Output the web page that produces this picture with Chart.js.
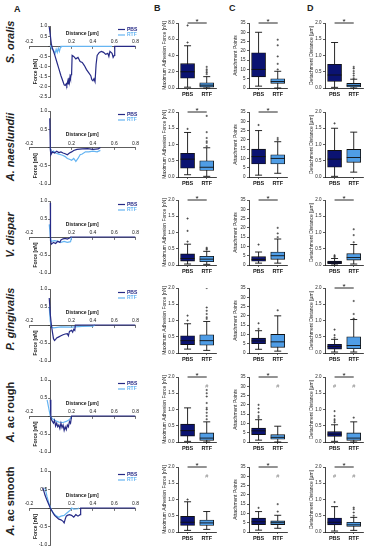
<!DOCTYPE html>
<html>
<head>
<meta charset="utf-8">
<script src="https://cdn.jsdelivr.net/npm/chart.js@4.4.1/dist/chart.umd.min.js"></script>
<style>
  body { margin: 0; background: #fff; }
  #page { position: relative; width: 374px; height: 550px; overflow: hidden; font-family: "Liberation Sans", Arial, sans-serif; color: #222; }
  #page canvas { position: absolute; }
  .letter { position: absolute; font-weight: bold; font-size: 9px; }
  .species { position: absolute; left: 10px; font-weight: bold; font-size: 11px; white-space: nowrap; transform: translate(-50%, -50%) rotate(-90deg); }
</style>
</head>
<body>
<div id="page">
  <div class="letter" style="left:14px;top:4px">A</div>
  <div class="letter" style="left:154px;top:3px">B</div>
  <div class="letter" style="left:229px;top:3px">C</div>
  <div class="letter" style="left:307px;top:3px">D</div>
  <div class="species" style="top:42px"><i>S. oralis</i></div>
  <div class="species" style="top:147px"><i>A. naeslundii</i></div>
  <div class="species" style="top:235px"><i>V. dispar</i></div>
  <div class="species" style="top:319px"><i>P. gingivalis</i></div>
  <div class="species" style="top:412px"><i>A.</i> ac rough</div>
  <div class="species" style="top:501px"><i>A.</i> ac smooth</div>
</div>
<script>
const groups = ['PBS', 'RTF'];

// column A: force-distance curves, [distance µm, force nN]
const oralisPBS = [[-0.01,0.95],[0,0.55],[0.01,0.1],[0.02,-0.1],[0.04,-0.4],[0.06,-0.75],[0.08,-1.1],[0.1,-1.45],[0.12,-1.75],[0.13,-1.9],[0.14,-1.93],[0.15,-1.85],[0.155,-1.92],[0.165,-1.7],[0.17,-1.85],[0.175,-1.55],[0.18,-1.75],[0.185,-1.5],[0.19,-1.6],[0.195,-1.4],[0.2,-1.35],[0.205,-0.45],[0.22,-0.5],[0.24,-0.62],[0.26,-0.55],[0.28,-0.75],[0.3,-0.8],[0.32,-0.95],[0.34,-1.15],[0.36,-1.3],[0.38,-1.45],[0.39,-1.65],[0.4,-1.7],[0.41,-1.6],[0.42,-1.75],[0.43,-0.9],[0.44,-0.45],[0.46,-0.3],[0.48,-0.25],[0.5,-0.3],[0.52,-0.4],[0.54,-0.35],[0.55,-0.5],[0.56,-0.25],[0.58,-0.35],[0.59,-0.55],[0.6,-0.45],[0.605,0],[0.8,0]];
const oralisRTF = [[0,0.05],[0.01,-0.1],[0.03,-0.2],[0.045,-0.35],[0.055,-0.15],[0.065,-0.3],[0.075,-0.1],[0.085,-0.25],[0.095,-0.05],[0.1,0],[0.58,0]];
const naeslundiiPBS = [[-0.005,0.8],[0,-0.05],[0.005,-0.2],[0.02,-0.12],[0.04,-0.15],[0.06,-0.1],[0.08,-0.14],[0.1,-0.12],[0.12,-0.15],[0.14,-0.17],[0.16,-0.2],[0.18,-0.15],[0.2,-0.12],[0.22,-0.08],[0.25,-0.05],[0.3,-0.04],[0.35,-0.03],[0.4,-0.05],[0.45,-0.04],[0.47,0]];
const naeslundiiRTF = [[0,0],[0.01,-0.15],[0.03,-0.1],[0.05,-0.15],[0.08,-0.18],[0.1,-0.2],[0.12,-0.22],[0.14,-0.25],[0.16,-0.3],[0.18,-0.32],[0.2,-0.35],[0.22,-0.3],[0.24,-0.38],[0.26,-0.3],[0.28,-0.2],[0.3,-0.18],[0.33,-0.12],[0.36,-0.12],[0.4,-0.1],[0.44,-0.12],[0.47,-0.08]];
const disparPBS = [[0,0.95],[0.002,-0.1],[0.01,-0.2],[0.03,-0.15],[0.05,-0.18],[0.07,-0.12],[0.09,-0.15],[0.1,-0.08],[0.12,-0.05],[0.14,-0.04],[0.16,-0.06],[0.18,-0.03],[0.19,0],[0.8,0]];
const disparRTF = [[-0.01,0.35],[-0.005,0.2],[0,0],[0.01,-0.12],[0.04,-0.1],[0.07,-0.12],[0.1,-0.15],[0.13,-0.12],[0.16,-0.15],[0.19,-0.13],[0.2,0]];
const gingivalisPBS = [[-0.01,0.75],[0,0.3],[0.01,0],[0.02,-0.2],[0.03,-0.38],[0.04,-0.43],[0.05,-0.4],[0.06,-0.36],[0.08,-0.33],[0.1,-0.3],[0.12,-0.27],[0.14,-0.25],[0.16,-0.24],[0.17,-0.3],[0.18,-0.18],[0.2,-0.15],[0.21,-0.2],[0.22,-0.12],[0.23,-0.15],[0.235,0],[0.8,0]];
const gingivalisRTF = [[-0.01,0.5],[0,0.1],[0.01,-0.05],[0.03,-0.08],[0.1,-0.05],[0.2,-0.06],[0.3,-0.04],[0.4,-0.03],[0.42,0]];
const roughPBS = [[0,0.45],[0.005,0],[0.01,-0.1],[0.02,-0.15],[0.03,-0.2],[0.04,-0.12],[0.05,-0.28],[0.06,-0.2],[0.07,-0.3],[0.08,-0.25],[0.09,-0.35],[0.1,-0.2],[0.11,-0.32],[0.12,-0.25],[0.13,-0.4],[0.14,-0.3],[0.15,-0.38],[0.16,-0.25],[0.17,-0.3],[0.18,-0.15],[0.19,-0.2],[0.2,0],[0.8,0]];
const roughRTF = [[-0.03,0.45],[-0.01,0.15],[0,0],[0.02,-0.08],[0.05,-0.13],[0.08,-0.17],[0.12,-0.18],[0.15,-0.15],[0.18,-0.1],[0.2,-0.02]];
const smoothPBS = [[-0.07,0.55],[-0.05,0.35],[-0.03,0.2],[0,0],[0.02,-0.1],[0.04,-0.2],[0.06,-0.25],[0.08,-0.3],[0.1,-0.32],[0.12,-0.36],[0.13,-0.4],[0.14,-0.3],[0.15,-0.22],[0.16,-0.2],[0.18,-0.18],[0.2,-0.2],[0.22,-0.25],[0.24,-0.18],[0.26,-0.22],[0.28,-0.18],[0.285,0],[0.8,0]];
const smoothRTF = [[-0.05,0.55],[-0.03,0.3],[-0.01,0.1],[0.01,-0.05],[0.03,-0.15],[0.06,-0.22],[0.08,-0.25],[0.1,-0.22],[0.13,-0.2],[0.15,-0.15],[0.17,-0.1],[0.19,-0.05],[0.2,0],[0.22,-0.03],[0.26,-0.02],[0.27,0]];

// columns B-D: box stats [min, Q1, median, Q3, max] for PBS, RTF; outliers; "#" marks
const oralisForce = [[0.1,1.2,2.0,3.0,5.2],[0,0.1,0.35,0.65,1.4]];
const oralisForceOut = [[5.6,7.7],[1.7,1.9,2.1,2.3,2.6]];
const oralisPoints = [[1,6,10,19,30],[0,2.5,3.5,5,9]];
const oralisPointsOut = [[],[10,13,17,23,26]];
const oralisDist = [[0.02,0.2,0.4,0.73,1.4],[0,0.03,0.08,0.14,0.27]];
const oralisDistOut = [[],[0.3,0.38,0.45,0.52,0.6,0.65]];

const naeslundiiForce = [[0.07,0.27,0.55,0.73,1.37],[0.02,0.2,0.3,0.5,0.9]];
const naeslundiiForceOut = [[1.48],[0.95,1.05,1.1,1.2,1.38,1.88]];
const naeslundiiPoints = [[1,7,11,15,25],[2,7,10,12,19]];
const naeslundiiPointsOut = [[28],[20,21]];
const naeslundiiDist = [[0.02,0.3,0.55,0.82,1.5],[0.15,0.45,0.6,0.85,1.38]];
const naeslundiiDistOut = [[1.65],[]];

const disparForce = [[0.03,0.12,0.2,0.34,0.64],[0.02,0.1,0.18,0.27,0.42]];
const disparForceOut = [[0.72,1.05,1.43],[0.47,0.5,0.53]];
const disparPoints = [[1,2,3,4.5,7],[1,3,5,7,14]];
const disparPointsOut = [[11],[15,17,20]];
const disparDist = [[0,0.04,0.08,0.12,0.2],[0.03,0.15,0.23,0.35,0.63]];
const disparDistOut = [[0.24,0.27,0.3],[0.7,0.92,1.1]];

const gingivalisForce = [[0.12,0.26,0.38,0.53,0.9],[0.08,0.24,0.38,0.56,0.97]];
const gingivalisForceOut = [[1.0,1.15],[1.05,1.1,1.2,1.3,1.4,2.0]];
const gingivalisPoints = [[2,5,6.5,8,12],[1,3,6,10,20]];
const gingivalisPointsOut = [[13,16],[23]];
const gingivalisDist = [[0.03,0.12,0.2,0.27,0.42],[0.03,0.13,0.23,0.5,1.03]];
const gingivalisDistOut = [[0.47,0.55,0.72],[1.06,1.2,1.6]];

const roughForce = [[0.02,0.18,0.35,0.55,1.05],[0,0.05,0.12,0.28,0.62]];
const roughForceOut = [[],[0.7,0.8,0.9,1.0,1.05,1.2,1.4,1.5,1.6]];
const roughPoints = [[1,4,6,7.5,12],[0,1.5,2.5,4,8.5]];
const roughPointsOut = [[13,14,16,18,20],[]];
const roughDist = [[0.02,0.17,0.24,0.32,0.53],[0,0.05,0.12,0.28,0.62]];
const roughDistOut = [[0.6,0.65,0.7,0.8,0.95],[0.75]];

const smoothForce = [[0.05,0.2,0.3,0.48,0.93],[0.08,0.2,0.28,0.37,0.63]];
const smoothForceOut = [[1.0],[]];
const smoothPoints = [[1,4,5.5,7.5,11],[2,4,5,6,9]];
const smoothPointsOut = [[13],[11,15]];
const smoothDist = [[0.03,0.22,0.3,0.43,0.78],[0.05,0.17,0.22,0.3,0.45]];
const smoothDistOut = [[0.92],[0.5,0.6,0.7,0.75]];

const hashForce = [null, 1.72];
const hashPoints = [null, 30];
const hashDist = [1.72, 1.72];

const navy = '#0b1372';
const sky = '#4f9de6';
const linePBS = '#262a86';
const lineRTF = '#66b5f2';

Chart.defaults.font.family = '"Liberation Sans", Arial, sans-serif';
Chart.defaults.color = '#222';

function addCanvas(left, top, w, h) {
  const c = document.createElement('canvas');
  c.width = w; c.height = h;
  c.style.left = left + 'px'; c.style.top = top + 'px';
  c.style.width = w + 'px'; c.style.height = h + 'px';
  document.getElementById('page').appendChild(c);
  return c;
}

// tick labels, titles and legend for the crossing axes of column A
const crossLabels = {
  id: 'crossLabels',
  afterDraw(chart) {
    const { ctx, chartArea, scales: { x, y } } = chart;
    const x0 = x.getPixelForValue(0), y0 = y.getPixelForValue(0);
    ctx.save();
    ctx.fillStyle = '#222';
    ctx.font = '5px "Liberation Sans"';
    ctx.textAlign = 'center';
    ctx.textBaseline = 'alphabetic';
    x.ticks.forEach(t => { if (t.value) ctx.fillText(t.value.toFixed(1), x.getPixelForValue(t.value), y0 - 3); });
    ctx.textAlign = 'right';
    ctx.textBaseline = 'middle';
    y.ticks.forEach(t => { if (t.value) ctx.fillText(t.value.toFixed(1), x0 - 3, y.getPixelForValue(t.value)); });
    ctx.font = 'bold 5px "Liberation Sans"';
    ctx.textAlign = 'center';
    ctx.fillText('Distance [µm]', x.getPixelForValue(0.3), y0 - 12.5);
    ctx.save();
    ctx.translate(x0 - 15, (y0 + chartArea.bottom) / 2);
    ctx.rotate(-Math.PI / 2);
    ctx.fillText('Force [nN]', 0, 0);
    ctx.restore();
    ctx.textAlign = 'left';
    chart.data.datasets.forEach((ds, i) => {
      const ly = chartArea.top + 3.5 + i * 5.5;
      ctx.strokeStyle = ds.borderColor;
      ctx.lineWidth = 1.2;
      ctx.beginPath();
      ctx.moveTo(chartArea.right - 17.5, ly);
      ctx.lineTo(chartArea.right - 10.5, ly);
      ctx.stroke();
      ctx.fillStyle = ds.borderColor;
      ctx.fillText(ds.label, chartArea.right - 8.5, ly);
    });
    ctx.restore();
  }
};

function forceCurve(top, bottom, yMin, pbs, rtf) {
  const canvas = addCanvas(18, top - 8, 124, bottom - top + 12);
  const axisStyle = {
    grid: { drawOnChartArea: false, tickLength: 2, color: '#333', lineWidth: 0.7 },
    border: { color: '#333', width: 0.8 }
  };
  return new Chart(canvas, {
    type: 'line',
    data: {
      datasets: [
        { label: 'PBS', data: pbs.map(p => ({ x: p[0], y: p[1] })), borderColor: linePBS, borderWidth: 1.2, pointRadius: 0 },
        { label: 'RTF', data: rtf.map(p => ({ x: p[0], y: p[1] })), borderColor: lineRTF, borderWidth: 1.2, pointRadius: 0 }
      ]
    },
    options: {
      responsive: false,
      animation: false,
      layout: { padding: { left: 11, right: 6.5, top: 8, bottom: 4 } },
      scales: {
        x: { type: 'linear', min: -0.2, max: 0.8, position: { y: 0 }, afterFit: s => { s.height = 0; }, ticks: { display: false, stepSize: 0.2 }, ...axisStyle },
        y: { type: 'linear', min: yMin, max: 1, position: { x: 0 }, afterFit: s => { s.width = 0; }, ticks: { display: false, stepSize: 0.5 }, ...axisStyle }
      },
      plugins: { legend: { display: false }, tooltip: { enabled: false } }
    },
    plugins: [crossLabels]
  });
}

// whiskers, medians, significance bars and "#" marks for the box plots
const boxParts = {
  id: 'boxParts',
  beforeDatasetsDraw(chart, args, opts) {
    const { ctx, scales: { x, y } } = chart;
    ctx.save();
    ctx.strokeStyle = '#111';
    ctx.lineWidth = 0.9;
    opts.stats.forEach((s, i) => {
      const cx = x.getPixelForValue(i);
      ctx.beginPath();
      ctx.moveTo(cx, y.getPixelForValue(s[0]));
      ctx.lineTo(cx, y.getPixelForValue(s[4]));
      [s[0], s[4]].forEach(v => {
        const py = y.getPixelForValue(v);
        ctx.moveTo(cx - 3.5, py);
        ctx.lineTo(cx + 3.5, py);
      });
      ctx.stroke();
    });
    ctx.restore();
  },
  afterDatasetsDraw(chart, args, opts) {
    const { ctx, chartArea, scales: { x, y } } = chart;
    ctx.save();
    ctx.strokeStyle = '#111';
    ctx.lineWidth = 0.9;
    opts.stats.forEach((s, i) => {
      const cx = x.getPixelForValue(i), py = y.getPixelForValue(s[2]);
      ctx.beginPath();
      ctx.moveTo(cx - 7, py);
      ctx.lineTo(cx + 7, py);
      ctx.stroke();
    });
    if (opts.sig) {
      const x1 = x.getPixelForValue(0), x2 = x.getPixelForValue(1);
      ctx.beginPath();
      ctx.moveTo(x1, chartArea.top);
      ctx.lineTo(x2, chartArea.top);
      ctx.stroke();
      ctx.fillStyle = '#111';
      ctx.font = '8px "Liberation Sans"';
      ctx.textAlign = 'center';
      ctx.textBaseline = 'alphabetic';
      ctx.fillText('*', (x1 + x2) / 2, chartArea.top + 0.5);
    }
    if (opts.hashes) {
      ctx.fillStyle = '#8a8a8a';
      ctx.font = '5.5px "Liberation Sans"';
      ctx.textAlign = 'center';
      ctx.textBaseline = 'middle';
      opts.hashes.forEach((v, i) => { if (v !== null) ctx.fillText('#', x.getPixelForValue(i), y.getPixelForValue(v)); });
    }
    ctx.restore();
  }
};

function boxPanel(axisX, top, yMax, step, digits, title, stats, outliers, sig, hashes) {
  const canvas = addCanvas(axisX - 16, top - 10, 59, 87);
  const axisStyle = {
    border: { color: '#111', width: 0.8 }
  };
  return new Chart(canvas, {
    type: 'bar',
    data: {
      labels: groups,
      datasets: [
        { type: 'bar', data: stats.map(s => [s[1], s[3]]), backgroundColor: [navy, sky], borderColor: '#111', borderWidth: 0.9, borderSkipped: false, barThickness: 14, order: 2 },
        { type: 'scatter', data: outliers.flatMap((vals, i) => vals.map(v => ({ x: groups[i], y: v }))), pointStyle: 'cross', pointRadius: 1.1, borderColor: '#333', borderWidth: 0.7, order: 1 }
      ]
    },
    options: {
      responsive: false,
      animation: false,
      layout: { padding: { top: 10, right: 3 } },
      scales: {
        x: {
          type: 'category', offset: true, afterFit: s => { s.height = 12; },
          grid: { offset: false, drawOnChartArea: false, tickLength: 2, color: '#111', lineWidth: 0.7 },
          ticks: { font: { size: 5.5, weight: 'bold' }, color: '#111', padding: 1 },
          ...axisStyle
        },
        y: {
          min: 0, max: yMax, afterFit: s => { s.width = 16; },
          grid: { drawOnChartArea: false, tickLength: 2, color: '#111', lineWidth: 0.7 },
          ticks: { stepSize: step, callback: v => v.toFixed(digits), font: { size: 4.5 }, padding: 1.5 },
          title: { display: true, text: title, font: { size: 5 }, padding: 0 },
          ...axisStyle
        }
      },
      plugins: { legend: { display: false }, tooltip: { enabled: false }, boxParts: { stats, sig, hashes } }
    },
    plugins: [boxParts]
  });
}

const FORCE = 'Maximum Adhesion Force [nN]';
const POINTS = 'Attachment Points';
const DIST = 'Detachment Distance [µm]';

// row 1
forceCurve(26, 97, -2.5, oralisPBS, oralisRTF);
boxPanel(178, 23, 8, 2, 1, FORCE, oralisForce, oralisForceOut, true, null);
boxPanel(249, 23, 35, 5, 0, POINTS, oralisPoints, oralisPointsOut, true, null);
boxPanel(325, 23, 2, 0.5, 1, DIST, oralisDist, oralisDistOut, true, null);
// row 2
forceCurve(111, 184, -1, naeslundiiPBS, naeslundiiRTF);
boxPanel(178, 112, 2, 0.5, 1, FORCE, naeslundiiForce, naeslundiiForceOut, true, null);
boxPanel(249, 112, 35, 5, 0, POINTS, naeslundiiPoints, naeslundiiPointsOut, true, null);
boxPanel(325, 112, 2, 0.5, 1, DIST, naeslundiiDist, naeslundiiDistOut, false, null);
// row 3
forceCurve(201, 273, -1, disparPBS, disparRTF);
boxPanel(178, 200, 2, 0.5, 1, FORCE, disparForce, disparForceOut, true, null);
boxPanel(249, 200, 35, 5, 0, POINTS, disparPoints, disparPointsOut, true, null);
boxPanel(325, 200, 2, 0.5, 1, DIST, disparDist, disparDistOut, true, null);
// row 4
forceCurve(289, 361, -1, gingivalisPBS, gingivalisRTF);
boxPanel(178, 288, 2, 0.5, 1, FORCE, gingivalisForce, gingivalisForceOut, false, null);
boxPanel(249, 288, 35, 5, 0, POINTS, gingivalisPoints, gingivalisPointsOut, false, null);
boxPanel(325, 288, 2, 0.5, 1, DIST, gingivalisDist, gingivalisDistOut, true, null);
// row 5
forceCurve(380, 452, -1, roughPBS, roughRTF);
boxPanel(178, 377, 2, 0.5, 1, FORCE, roughForce, roughForceOut, true, hashForce);
boxPanel(249, 377, 35, 5, 0, POINTS, roughPoints, roughPointsOut, true, hashPoints);
boxPanel(325, 377, 2, 0.5, 1, DIST, roughDist, roughDistOut, true, hashDist);
// row 6
forceCurve(471, 545, -1, smoothPBS, smoothRTF);
boxPanel(178, 467, 2, 0.5, 1, FORCE, smoothForce, smoothForceOut, true, hashForce);
boxPanel(249, 467, 35, 5, 0, POINTS, smoothPoints, smoothPointsOut, true, hashPoints);
boxPanel(325, 467, 2, 0.5, 1, DIST, smoothDist, smoothDistOut, true, hashDist);
</script>
</body>
</html>
